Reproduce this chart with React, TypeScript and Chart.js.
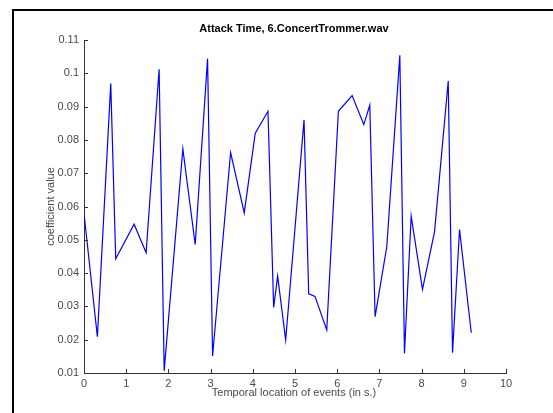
import React, { useEffect, useRef } from "react";
import { Chart, registerables } from "chart.js";

Chart.register(...registerables);

const TITLE = "Attack Time, 6.ConcertTrommer.wav";
const X_LABEL = "Temporal location of events (in s.)";
const Y_LABEL = "coefficient value";

const eventTimes = [
  0, 0.317, 0.634, 0.752, 1.187, 1.472, 1.78, 1.9, 2.342, 2.635, 2.928, 3.047,
  3.474, 3.797, 4.058, 4.36, 4.494, 4.589, 4.779, 5.214, 5.325, 5.474, 5.752,
  6.028, 6.353, 6.63, 6.772, 6.898, 7.175, 7.484, 7.594, 7.753, 8.021, 8.306,
  8.631, 8.733, 8.899, 9.177,
];

const coefficients = [
  0.0579, 0.0209, 0.0969, 0.0443, 0.0547, 0.0461, 0.1012, 0.0107, 0.0773,
  0.0486, 0.1044, 0.0151, 0.0762, 0.0581, 0.082, 0.0886, 0.0297, 0.0391,
  0.0199, 0.086, 0.0338, 0.033, 0.0229, 0.0886, 0.0933, 0.0846, 0.0904,
  0.0269, 0.0479, 0.1054, 0.0159, 0.0571, 0.0351, 0.0524, 0.0977, 0.0161,
  0.0531, 0.0221,
];

const xTicks = [0, 1, 2, 3, 4, 5, 6, 7, 8, 9, 10];
const yTicks = [0.01, 0.02, 0.03, 0.04, 0.05, 0.06, 0.07, 0.08, 0.09, 0.1, 0.11];

const FONT = "'Liberation Sans', Arial, Helvetica, sans-serif";
const AXIS_COLOR = "#333333";
const TEXT_COLOR = "#4a4a4a";

const decorPlugin = {
  id: "decor",
  afterDraw(chart: any) {
    const ctx = chart.ctx;
    const area = chart.chartArea;
    const xs = chart.scales.x;
    const ys = chart.scales.y;
    ctx.save();
    // outer frame (top & left)
    ctx.fillStyle = "#000000";
    ctx.fillRect(12, 9, chart.width - 12, 2);
    ctx.fillRect(12, 9, 2, chart.height - 9);
    // inward ticks
    ctx.strokeStyle = AXIS_COLOR;
    ctx.lineWidth = 1;
    ctx.beginPath();
    xTicks.forEach((v) => {
      const px = Math.round(xs.getPixelForValue(v)) + 0.5;
      ctx.moveTo(px, area.bottom);
      ctx.lineTo(px, area.bottom - 4);
    });
    yTicks.forEach((v) => {
      const py = Math.round(ys.getPixelForValue(v)) + 0.5;
      ctx.moveTo(area.left, py);
      ctx.lineTo(area.left + 4, py);
    });
    ctx.stroke();
    // title
    const cx = (area.left + area.right) / 2;
    ctx.fillStyle = "#000000";
    ctx.font = `bold 11px ${FONT}`;
    ctx.textAlign = "center";
    ctx.textBaseline = "middle";
    ctx.fillText(TITLE, cx - 1, 29);
    // axis labels
    ctx.fillStyle = TEXT_COLOR;
    ctx.font = `11px ${FONT}`;
    ctx.fillText(X_LABEL, cx - 1, 393);
    ctx.translate(51, (area.top + area.bottom) / 2);
    ctx.rotate(-Math.PI / 2);
    ctx.fillText(Y_LABEL, 0, 0);
    ctx.restore();
  },
};

export default function App() {
  const ref = useRef<HTMLCanvasElement>(null);
  useEffect(() => {
    if (!ref.current) return;
    const chart = new Chart(ref.current, {
      type: "line",
      data: {
        datasets: [
          {
            data: eventTimes.map((t, i) => ({ x: t, y: coefficients[i] })),
            borderColor: "#0000ff",
            borderWidth: 1.2,
            pointRadius: 0,
            fill: false,
            tension: 0,
          },
        ],
      },
      options: {
        animation: false,
        responsive: false,
        maintainAspectRatio: false,
        events: [],
        layout: { padding: { top: 40, left: 0, right: 47, bottom: 0 } },
        plugins: {
          legend: { display: false },
          title: { display: false },
          tooltip: { enabled: false },
        },
        scales: {
          x: {
            type: "linear",
            min: 0,
            max: 10,
            afterFit: (s: any) => {
              s.height = 40;
            },
            afterBuildTicks: (s: any) => {
              s.ticks = xTicks.map((v) => ({ value: v }));
            },
            grid: { display: true, drawOnChartArea: false, drawTicks: false },
            border: { display: true, color: AXIS_COLOR, width: 1 },
            ticks: {
              padding: 4,
              color: TEXT_COLOR,
              font: { family: FONT, size: 11 },
              maxRotation: 0,
              callback: (v: any) => String(v),
            },
          },
          y: {
            type: "linear",
            min: 0.01,
            max: 0.11,
            afterFit: (s: any) => {
              s.width = 84;
            },
            afterBuildTicks: (s: any) => {
              s.ticks = yTicks.map((v) => ({ value: v }));
            },
            grid: { display: true, drawOnChartArea: false, drawTicks: false },
            border: { display: true, color: AXIS_COLOR, width: 1 },
            ticks: {
              padding: 5,
              color: TEXT_COLOR,
              font: { family: FONT, size: 11 },
              callback: (v: any) => String(Math.round(v * 100) / 100),
            },
          },
        },
      },
      plugins: [decorPlugin],
    });
    return () => chart.destroy();
  }, []);
  return (
    <div style={{ position: "fixed", left: 0, top: 0, width: 553, height: 413, background: "#fff" }}>
      <canvas ref={ref} width={553} height={413} style={{ width: 553, height: 413 }} />
    </div>
  );
}
